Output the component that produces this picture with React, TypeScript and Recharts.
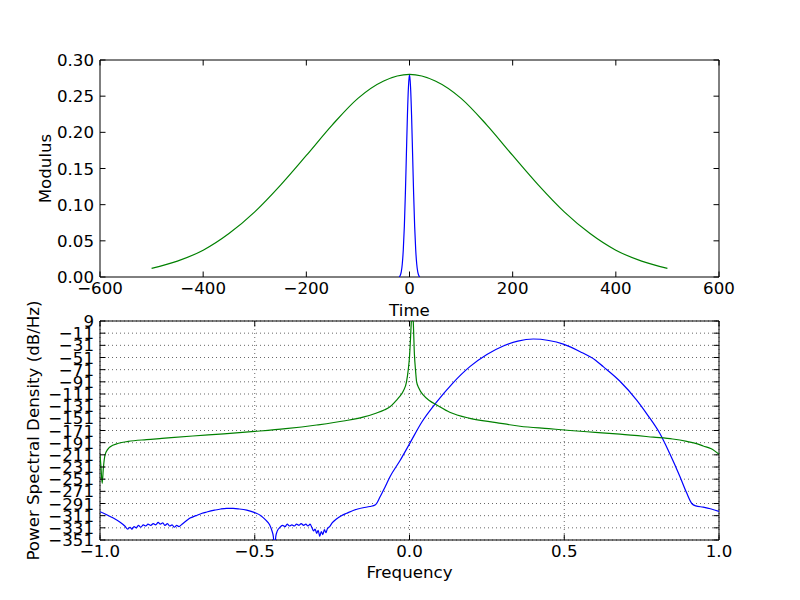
import { LineChart, Line, XAxis, YAxis, CartesianGrid, ReferenceArea } from "recharts";

// top panel: two gaussian pulses
const timeTicks = [-600, -400, -200, 0, 200, 400, 600];
const modulusTicks = [0, 0.05, 0.1, 0.15, 0.2, 0.25, 0.3];

const wideTime = [-500, -450, -400, -350, -300, -250, -200, -150, -100, -50, 0, 50, 100, 150, 200, 250, 300, 350, 400, 450, 500];
const wideModulus = [0.012, 0.022, 0.037, 0.06, 0.09, 0.127, 0.168, 0.21, 0.247, 0.271, 0.28, 0.271, 0.247, 0.21, 0.168, 0.127, 0.09, 0.06, 0.037, 0.022, 0.012];

const narrowTime = [-20, -18, -16, -14, -12, -10, -8, -6, -4, -2, 0, 2, 4, 6, 8, 10, 12, 14, 16, 18, 20];
const narrowModulus = [0, 0.002, 0.007, 0.018, 0.038, 0.07, 0.115, 0.17, 0.224, 0.263, 0.28, 0.263, 0.224, 0.17, 0.115, 0.07, 0.038, 0.018, 0.007, 0.002, 0];

// bottom panel: power spectral density
const freqTicks = [-1, -0.5, 0, 0.5, 1];
const psdTicks = [-351, -331, -311, -291, -271, -251, -231, -211, -191, -171, -151, -131, -111, -91, -71, -51, -31, -11, 9];

const blueFreq = [
  -1.0, -0.98, -0.957, -0.935, -0.92, -0.91, -0.903, -0.897, -0.89, -0.883, -0.876, -0.868, -0.86, -0.852,
  -0.845, -0.836, -0.828, -0.82, -0.812, -0.805, -0.797, -0.79, -0.782, -0.775, -0.767, -0.76, -0.752, -0.745,
  -0.735, -0.72, -0.709, -0.69, -0.67, -0.655, -0.63, -0.61, -0.591, -0.57, -0.55, -0.526, -0.5, -0.48, -0.465,
  -0.452, -0.445, -0.44, -0.436, -0.432, -0.427, -0.42, -0.41, -0.402, -0.395, -0.388, -0.38, -0.372, -0.365,
  -0.357, -0.35, -0.342, -0.335, -0.328, -0.321, -0.315, -0.31, -0.305, -0.3, -0.295, -0.29, -0.285, -0.28,
  -0.275, -0.27, -0.265, -0.258, -0.25, -0.235, -0.22, -0.203, -0.18, -0.15, -0.128, -0.11, -0.095, -0.08,
  -0.063, -0.03, 0.0, 0.04, 0.088, 0.14, 0.195, 0.25, 0.303, 0.35, 0.4, 0.45, 0.497, 0.55, 0.6, 0.626, 0.68,
  0.734, 0.77, 0.809, 0.84, 0.874, 0.895, 0.912, 0.925, 0.949, 0.975, 1.0,
];
const bluePsd = [
  -304.5, -309, -315, -322, -328, -333, -330, -333, -329, -331, -327, -330, -326, -328,
  -325, -327, -324, -326, -322, -325, -323, -327, -324, -328, -326, -330, -327, -329,
  -325, -319, -315, -311, -307, -305, -302, -300, -299, -299, -300, -302, -306, -311, -318,
  -326, -335, -345, -365, -345, -336, -331, -327, -329, -325, -328, -326, -328, -325,
  -327, -324, -327, -325, -328, -325, -331, -336, -333, -340, -335, -345, -337, -342,
  -334, -339, -332, -329, -323, -316, -311, -307, -302, -298, -296, -293, -280, -265,
  -247, -220, -193, -157, -124, -93, -66, -46, -32, -24, -20.6, -23, -29, -41, -55, -66, -90,
  -121, -146, -176, -208, -247, -273, -291, -295, -297, -300, -304,
];

const greenFreq = [
  -1.0, -0.997, -0.993, -0.989, -0.984, -0.975, -0.968, -0.94, -0.909, -0.85, -0.8, -0.7, -0.6, -0.5, -0.4,
  -0.3, -0.208, -0.15, -0.111, -0.08, -0.063, -0.047, -0.035, -0.02, -0.01, -0.004, 0.0, 0.0035, 0.006, 0.009,
  0.012, 0.0157, 0.02, 0.023, 0.03, 0.045, 0.065, 0.088, 0.13, 0.195, 0.28, 0.357, 0.45, 0.519, 0.6, 0.68,
  0.788, 0.85, 0.896, 0.93, 0.949, 0.975, 1.0,
];
const greenPsd = [
  -211, -230, -258, -232, -212, -202, -198, -192, -189, -186, -184, -180, -176.5, -172.5, -168,
  -162, -155, -149, -143, -137, -132, -124, -117, -106, -92, -71, -50, -17, 10, 30,
  10, -44, -75, -91, -101, -113, -122, -129, -141, -151, -158, -164, -168, -171, -174, -177,
  -182, -185, -189, -193, -196.5, -201, -210,
];

const wideData = wideTime.map((x, i) => ({ x, y: wideModulus[i] }));
const narrowData = narrowTime.map((x, i) => ({ x, y: narrowModulus[i] }));
const blueData = blueFreq.map((x, i) => ({ x, y: bluePsd[i] }));
const greenData = greenFreq.map((x, i) => ({ x, y: greenPsd[i] }));

const FONT = "DejaVu Sans";
const FS = 16.67;
const LEFT = 100;
const RIGHT = 719;

const fmt = (v: number, digits: number) => (v < 0 ? "\u2212" : "") + Math.abs(v).toFixed(digits);

const xTick = (top: number, bottom: number, digits: number) => (props: any) => {
  const { x, payload } = props;
  return (
    <g>
      <line x1={x} x2={x} y1={bottom} y2={bottom - 5.5} stroke="#000" />
      <line x1={x} x2={x} y1={top} y2={top + 5.5} stroke="#000" />
      <text x={x} y={bottom + 17} textAnchor="middle" fill="#000" fontFamily={FONT} fontSize={FS}>
        {fmt(payload.value, digits)}
      </text>
    </g>
  );
};

const yTick = (digits: number) => (props: any) => {
  const { y, payload } = props;
  return (
    <g>
      <line x1={LEFT} x2={LEFT + 5.5} y1={y} y2={y} stroke="#000" />
      <line x1={RIGHT} x2={RIGHT - 5.5} y1={y} y2={y} stroke="#000" />
      <text x={LEFT - 6} y={y + 6.1} textAnchor="end" fill="#000" fontFamily={FONT} fontSize={FS}>
        {fmt(payload.value, digits)}
      </text>
    </g>
  );
};

const titleStyle = { fontFamily: FONT, fontSize: FS, fill: "#000" };

export default function App() {
  return (
    <div style={{ position: "absolute", left: 0, top: 0, width: 800, height: 600, background: "#fff" }}>
      <div style={{ position: "absolute", left: 0, top: 0 }}>
        <LineChart width={800} height={320} margin={{ top: 60, right: 81, bottom: 0, left: 0 }}>
          <XAxis
            type="number"
            dataKey="x"
            domain={[-600, 600]}
            ticks={timeTicks}
            allowDataOverflow
            axisLine={false}
            tickLine={false}
            tick={xTick(60, 277, 0)}
            height={43}
            label={{ value: "Time", position: "insideBottom", offset: 4, style: titleStyle }}
          />
          <YAxis
            type="number"
            dataKey="y"
            domain={[0, 0.3]}
            ticks={modulusTicks}
            allowDataOverflow
            axisLine={false}
            tickLine={false}
            tick={yTick(2)}
            width={100}
            label={{ value: "Modulus", angle: -90, position: "insideLeft", offset: 45, style: { ...titleStyle, textAnchor: "middle" } }}
          />
          <ReferenceArea x1={-600} x2={600} y1={0} y2={0.3} fill="none" stroke="#000" strokeWidth={1} />
          <Line data={narrowData} dataKey="y" type="monotone" stroke="#0000ff" strokeWidth={1.2} dot={false} isAnimationActive={false} />
          <Line data={wideData} dataKey="y" type="monotone" stroke="#008000" strokeWidth={1.2} dot={false} isAnimationActive={false} />
        </LineChart>
      </div>
      <div style={{ position: "absolute", left: 0, top: 300 }}>
        <LineChart width={800} height={300} margin={{ top: 21, right: 81, bottom: 0, left: 0 }}>
          <CartesianGrid stroke="#000" strokeWidth={0.6} strokeDasharray="1 3" />
          <XAxis
            type="number"
            dataKey="x"
            domain={[-1, 1]}
            ticks={freqTicks}
            allowDataOverflow
            axisLine={false}
            tickLine={false}
            tick={xTick(21, 240, 1)}
            height={60}
            label={{ value: "Frequency", position: "insideBottom", offset: 22, style: titleStyle }}
          />
          <YAxis
            type="number"
            dataKey="y"
            domain={[-351, 9]}
            ticks={psdTicks}
            interval={0}
            allowDataOverflow
            axisLine={false}
            tickLine={false}
            tick={yTick(0)}
            width={100}
            label={{ value: "Power Spectral Density (dB/Hz)", angle: -90, position: "insideLeft", offset: 33, style: { ...titleStyle, textAnchor: "middle" } }}
          />
          <ReferenceArea x1={-1} x2={1} y1={-351} y2={9} fill="none" stroke="#000" strokeWidth={1} />
          <Line data={blueData} dataKey="y" type="monotone" stroke="#0000ff" strokeWidth={1.2} dot={false} isAnimationActive={false} />
          <Line data={greenData} dataKey="y" type="monotone" stroke="#008000" strokeWidth={1.2} dot={false} isAnimationActive={false} />
        </LineChart>
      </div>
    </div>
  );
}
